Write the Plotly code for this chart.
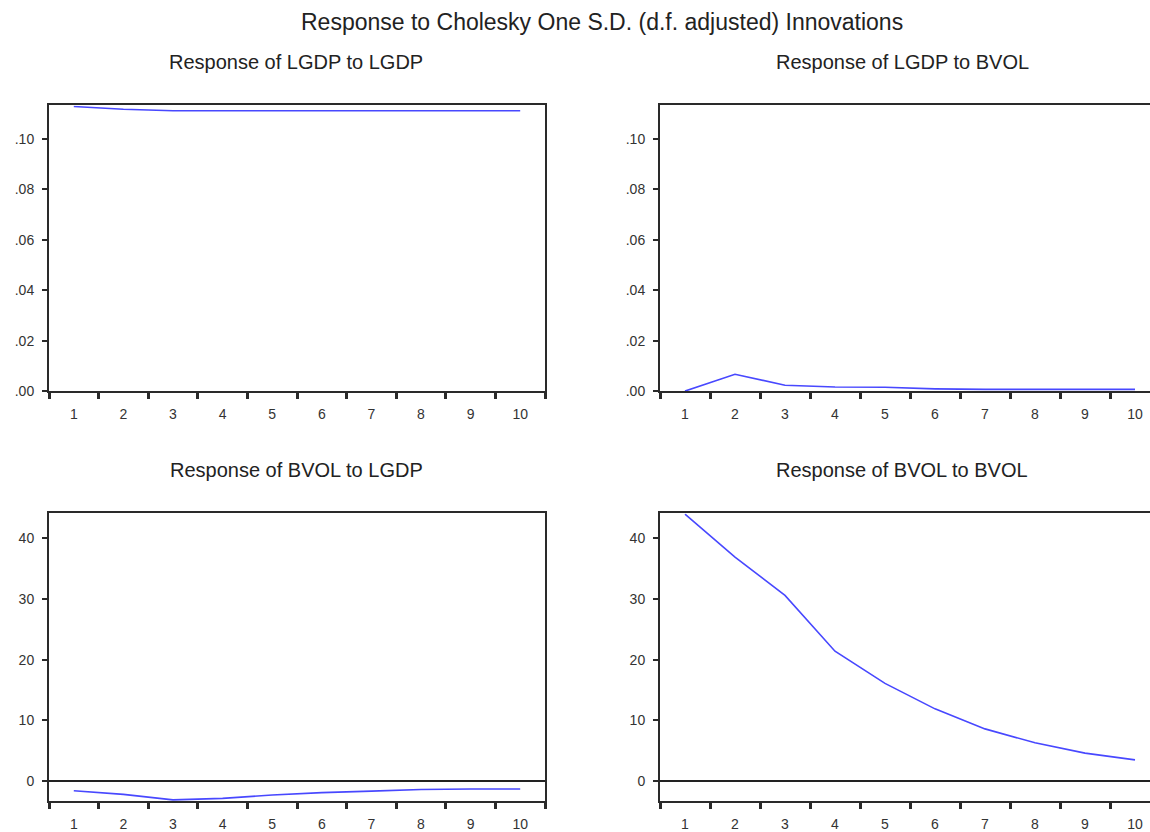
import plotly.graph_objects as go

periods = list(range(1, 11))
lgdp_to_lgdp = [0.1129, 0.1118, 0.1112, 0.1112, 0.1112, 0.1112, 0.1112, 0.1112, 0.1112, 0.1112]
lgdp_to_bvol = [0.0000, 0.0067, 0.0023, 0.0016, 0.0015, 0.0009, 0.0007, 0.0007, 0.0007, 0.0007]
bvol_to_lgdp = [-1.6, -2.2, -3.1, -2.85, -2.3, -1.9, -1.65, -1.4, -1.3, -1.3]
bvol_to_bvol = [44.0, 36.9, 30.6, 21.4, 16.1, 11.9, 8.6, 6.3, 4.6, 3.5]

titles = ["Response of LGDP to LGDP", "Response of LGDP to BVOL",
          "Response of BVOL to LGDP", "Response of BVOL to BVOL"]
main_title = "Response to Cholesky One S.D. (d.f. adjusted) Innovations"

top_ticks = [0.00, 0.02, 0.04, 0.06, 0.08, 0.10]
top_ticktext = [".00", ".02", ".04", ".06", ".08", ".10"]
bot_ticks = [0, 10, 20, 30, 40]
bot_ticktext = ["0", "10", "20", "30", "40"]

W, H = 1150, 832
HC = 824
FONT = "Liberation Sans"
LINE = "#4848ff"
AX = "#2a2a2a"

def px(x):
    return x / W

def py(y):
    return 1 - y / HC

panels = [
    # (xdom px, ydom px (top,bottom), series, yrange, ticks, ticktext, right_cut)
    ((49, 545), (106, 393), lgdp_to_lgdp, [0, 0.1133], top_ticks, top_ticktext, False),
    ((660, 1150), (106, 393), lgdp_to_bvol, [0, 0.1133], top_ticks, top_ticktext, True),
    ((49, 545), (516, 805), bvol_to_lgdp, [-3.3, 44.1], bot_ticks, bot_ticktext, False),
    ((660, 1150), (516, 805), bvol_to_bvol, [-3.3, 44.1], bot_ticks, bot_ticktext, True),
]

fig = go.Figure()
bounds = [i + 0.5 for i in range(0, 11)]

for i, (xd, yd, ser, yr, tv, tt, cut) in enumerate(panels):
    n = "" if i == 0 else str(i + 1)
    fig.add_trace(go.Scatter(x=periods, y=ser, mode="lines",
                             line=dict(color=LINE, width=1.6),
                             xaxis="x" + n, yaxis="y" + n, showlegend=False))
    xr = [0.5, 10.5] if not cut else [0.5, 0.5 + (xd[1] - xd[0]) / 50.0]
    fig.layout["xaxis" + n] = dict(
        domain=[px(xd[0]), px(xd[1])], anchor="y" + n, range=xr,
        tickmode="array", tickvals=periods, ticktext=[str(p) for p in periods],
        ticks="", showgrid=False, zeroline=False, ticklabelstandoff=9,
        showline=True, linecolor=AX, linewidth=2, mirror=True,
        tickfont=dict(family=FONT, size=14, color="#333333"),
        minor=dict(tickmode="array", tickvals=bounds, ticks="outside",
                   ticklen=6, tickwidth=2.5, tickcolor=AX, showgrid=False),
    )
    fig.layout["yaxis" + n] = dict(
        domain=[py(yd[1]), py(yd[0])], anchor="x" + n, range=yr,
        tickmode="array", tickvals=tv, ticktext=tt, ticklabelstandoff=5,
        ticks="outside", ticklen=5, tickwidth=1.5, tickcolor=AX,
        showgrid=False, zeroline=(yr[0] < 0), zerolinecolor="#222222", zerolinewidth=1.5,
        showline=True, linecolor=AX, linewidth=2, mirror=(not cut),
        tickfont=dict(family=FONT, size=14, color="#333333"),
    )
    fig.add_annotation(text=titles[i], xref="paper", yref="paper",
                       x=px(296 if xd[0] < 100 else 902),
                       y=py(yd[0] - 44), xanchor="center", yanchor="middle",
                       showarrow=False,
                       font=dict(family=FONT, size=20, color="#222222"))

fig.add_annotation(text=main_title, xref="paper", yref="paper",
                   x=px(602), y=py(22), xanchor="center", yanchor="middle",
                   showarrow=False, font=dict(family=FONT, size=23, color="#222222"))

fig.update_layout(width=W, height=H, margin=dict(l=0, r=0, t=0, b=0),
                  paper_bgcolor="white", plot_bgcolor="white")

fig.write_html("out.html", config={"displayModeBar": False},
               post_script="document.body.style.margin='0';document.body.style.overflow='hidden';")
